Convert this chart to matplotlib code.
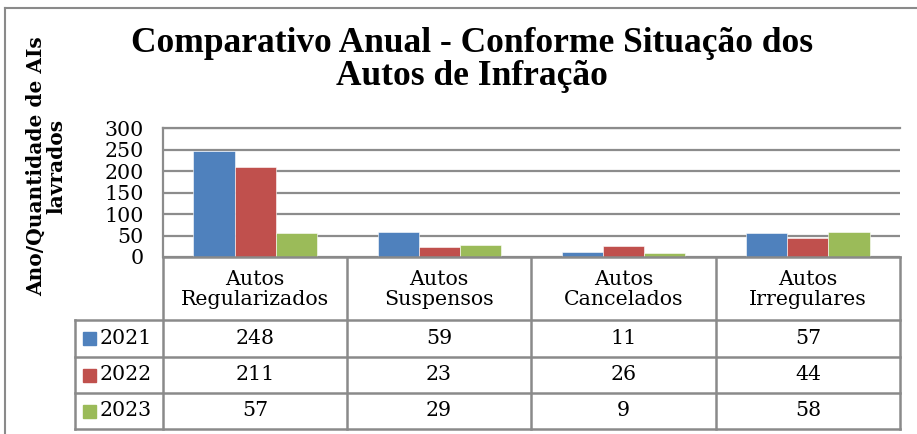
import matplotlib
matplotlib.use("Agg")
import matplotlib.pyplot as plt
from matplotlib.lines import Line2D
from matplotlib.patches import Rectangle
import numpy as np

categories = ["Autos\nRegularizados", "Autos\nSuspensos", "Autos\nCancelados", "Autos\nIrregulares"]
years = ["2021", "2022", "2023"]
values_2021 = [248, 59, 11, 57]
values_2022 = [211, 23, 26, 44]
values_2023 = [57, 29, 9, 58]
series = [values_2021, values_2022, values_2023]
colors = ["#4F81BD", "#C0504D", "#9BBB59"]
yticks = [0, 50, 100, 150, 200, 250, 300]
title = "Comparativo Anual - Conforme Situação dos\nAutos de Infração"
ylabel = "Ano/Quantidade de AIs\nlavrados"

W, H = 917, 434
fig = plt.figure(figsize=(W / 100, H / 100), dpi=100)
fig.patch.set_facecolor("white")

def fx(px):
    return px / W

def fy(py):
    return 1 - py / H

serif = "DejaVu Serif"
grid_c = "#8C8C8C"
fs = 14.8

# plot area
L, R, T, B = 163, 900, 128.5, 257
ax = fig.add_axes([fx(L), fy(B), fx(R) - fx(L), fy(T) - fy(B)])
n = len(categories)
x = np.arange(n)
bw = 0.223
for i, (vals, c) in enumerate(zip(series, colors)):
    ax.bar(x + (i - 1) * bw, vals, width=bw, color=c, edgecolor="white", linewidth=0.4, zorder=3)
ax.set_xlim(-0.5, n - 0.5)
ax.set_ylim(0, 300)
ax.set_yticks(yticks)
ax.set_yticklabels([str(t) for t in yticks], fontfamily=serif, fontsize=fs)
ax.tick_params(axis="y", length=0, pad=14)
ax.set_xticks([])
ax.yaxis.grid(True, color=grid_c, linewidth=1.6, zorder=0)
for s in ["right", "bottom"]:
    ax.spines[s].set_visible(False)
for s in ["left", "top"]:
    ax.spines[s].set_color(grid_c)
    ax.spines[s].set_linewidth(1.6)

# table
cols = [163, 347, 531, 716, 900]
rows = [257, 320, 357, 393, 429]
lw = 1.8
tc = "#8A8A8A"
def hline(x0, x1, y):
    fig.add_artist(Line2D([fx(x0), fx(x1)], [fy(y), fy(y)], color=tc, linewidth=lw))
def vline(x, y0, y1):
    fig.add_artist(Line2D([fx(x), fx(x)], [fy(y0), fy(y1)], color=tc, linewidth=lw))

hline(163, 900, 257)
for r in rows[1:]:
    hline(75, 900, r)
for c in cols:
    vline(c, 257, 429)
vline(75, 320, 429)

for j, cat in enumerate(categories):
    cx = (cols[j] + cols[j + 1]) / 2
    fig.text(fx(cx), fy((rows[0] + rows[1]) / 2 + 1), cat, ha="center", va="center",
             fontfamily=serif, fontsize=fs, linespacing=1.05)

for i, (yr, vals, c) in enumerate(zip(years, series, colors)):
    cy = (rows[i + 1] + rows[i + 2]) / 2
    fig.add_artist(Rectangle((fx(83), fy(cy + 6.5)), fx(13), 13 / H, color=c,
                             transform=fig.transFigure))
    fig.text(fx(100), fy(cy), yr, ha="left", va="center", fontfamily=serif, fontsize=fs)
    for j, v in enumerate(vals):
        cx = (cols[j] + cols[j + 1]) / 2
        fig.text(fx(cx), fy(cy), str(v), ha="center", va="center", fontfamily=serif, fontsize=fs)

# titles
fig.text(fx(472), fy(60), title, ha="center", va="center", fontfamily="Liberation Serif",
         fontweight="bold", fontsize=25.5, linespacing=0.98)
fig.text(fx(46), fy(166), ylabel, ha="center", va="center", rotation=90, fontfamily=serif,
         fontweight="bold", fontsize=14.5, linespacing=1.0)

# outer chart border (left and top)
fig.add_artist(Line2D([fx(5), fx(5)], [fy(8), 0], color="#8A8A8A", linewidth=1.5))
fig.add_artist(Line2D([fx(5), 1], [fy(8), fy(8)], color="#8A8A8A", linewidth=1.5))

fig.savefig("out.png", dpi=100, facecolor="white")
